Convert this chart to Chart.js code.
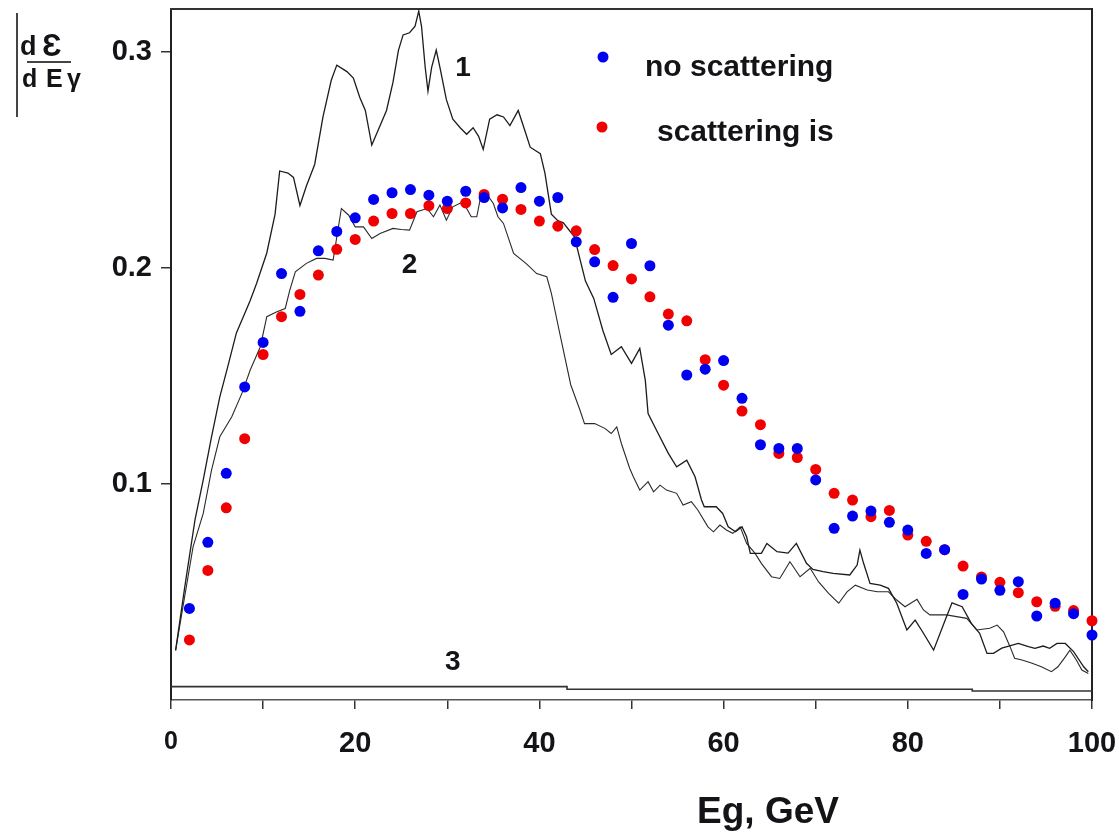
<!DOCTYPE html>
<html lang="en">
<head>
<meta charset="UTF-8">
<title>Photon energy spectrum</title>
<script src="https://cdn.jsdelivr.net/npm/chart.js@4.4.6/dist/chart.umd.min.js"></script>
<style>
  html, body { margin: 0; padding: 0; background: #fff; }
  #wrap { width: 1119px; height: 835px; }
</style>
</head>
<body>
<div id="wrap"><canvas id="spectrum" width="1119" height="835"></canvas></div>
<script>
// dots: photon energy (GeV) and the two simulated spectra
const dotEnergies = [2,4,6,8,10,12,14,16,18,20,22,24,26,28,30,32,34,36,38,40,
  42,44,46,48,50,52,54,56,58,60,62,64,66,68,70,72,74,76,78,80,
  82,84,86,88,90,92,94,96,98,100];
const noScattering = [0.0424,0.073,0.105,0.145,0.1656,0.1975,0.180,0.208,0.217,0.2233,
  0.2318,0.2349,0.2364,0.2338,0.231,0.2356,0.2327,0.2279,0.2373,0.231,
  0.2327,0.2122,0.2029,0.1865,0.2114,0.2011,0.1736,0.1505,0.1532,0.1572,
  0.1397,0.1182,0.1165,0.1165,0.1019,0.0795,0.0852,0.0875,0.0823,0.0787,
  0.0679,0.0696,0.0489,0.056,0.0508,0.0548,0.0389,0.0448,0.040,0.0301];
const withScattering = [0.0278,0.060,0.089,0.121,0.160,0.1775,0.1878,0.1968,0.2087,0.2133,
  0.2218,0.2253,0.2253,0.2289,0.2276,0.2302,0.2341,0.2319,0.2272,0.2218,
  0.2194,0.2173,0.2086,0.2012,0.195,0.1867,0.1787,0.1756,0.1576,0.1458,
  0.1338,0.1275,0.1142,0.1123,0.1068,0.0957,0.0926,0.0849,0.0878,0.0764,
  0.0735,0.0696,0.062,0.057,0.0545,0.0497,0.0455,0.0434,0.0414,0.0367];

// curves 1, 2, 3 as [energy, value]
const curve1 = [[0.5,0.023],[1.5,0.0525],[2.6,0.0833],[3.5,0.1019],[4.4,0.1219],[5.3,0.1404],[6.2,0.155],[7.1,0.170],[8.2,0.181],[8.6,0.185],
  [9.3,0.193],[10.4,0.207],[11.3,0.225],[11.8,0.245],[12.7,0.244],[13.3,0.242],[14.0,0.229],[14.7,0.238],[15.6,0.248],[16.5,0.270],
  [17.4,0.287],[18.0,0.294],[19.1,0.291],[19.8,0.288],[20.5,0.279],[21.1,0.273],[21.8,0.257],[22.5,0.264],[23.4,0.273],[24.1,0.286],
  [24.7,0.301],[25.2,0.308],[25.9,0.309],[26.5,0.312],[26.9,0.319],[27.2,0.312],[27.6,0.293],[27.9,0.282],[28.3,0.293],[28.8,0.301],
  [29.2,0.293],[29.9,0.278],[30.6,0.269],[31.4,0.265],[32.1,0.262],[32.8,0.265],[33.4,0.261],[33.9,0.255],[34.6,0.269],[35.4,0.271],
  [36.1,0.270],[36.8,0.266],[37.7,0.273],[38.4,0.264],[39.0,0.256],[40.1,0.253],[40.6,0.244],[41.3,0.225],[42.0,0.222],[42.6,0.221],
  [43.8,0.2145],[45.0,0.194],[45.9,0.186],[46.9,0.171],[47.8,0.160],[48.9,0.1636],[50.0,0.1559],[50.9,0.1628],[51.5,0.148],[51.8,0.1327],
  [52.7,0.125],[54.0,0.1142],[54.9,0.108],[56.0,0.1111],[56.9,0.1034],[57.6,0.0926],[57.9,0.0895],[59.2,0.0895],[59.9,0.0864],[60.5,0.0802],
  [61.3,0.0779],[62.0,0.0802],[62.5,0.0756],[62.9,0.0679],[64.1,0.0679],[64.7,0.0725],[65.8,0.0687],[67.0,0.068],[67.9,0.0725],[69.0,0.0633],
  [69.7,0.0605],[70.8,0.0594],[71.9,0.0586],[73.7,0.0579],[74.5,0.0625],[74.8,0.0694],[75.2,0.0633],[75.9,0.054],[77.0,0.0532],[77.9,0.0517],
  [78.8,0.0448],[79.9,0.0324],[80.8,0.037],[81.7,0.0309],[82.8,0.0231],[84.2,0.0386],[84.8,0.045],[85.9,0.0432],[86.9,0.0355],[87.8,0.0309],
  [88.6,0.0216],[89.3,0.0216],[90.2,0.024],[92.0,0.0262],[93.1,0.0247],[93.8,0.0239],[94.7,0.025],[95.4,0.0239],[96.2,0.0262],[97.1,0.0262],
  [98.0,0.0224],[99.1,0.0154],[99.6,0.0131]];
const curve2 = [[0.5,0.023],[1.3,0.0432],[2.4,0.071],[3.5,0.0864],[4.4,0.1065],[5.3,0.1219],[6.6,0.1312],[7.7,0.142],[8.6,0.1528],[9.7,0.1636],
  [10.4,0.1775],[11.5,0.1798],[12.4,0.1813],[12.9,0.1898],[13.5,0.1983],[14.7,0.2022],[15.8,0.2045],[16.7,0.2045],[17.6,0.2037],[18.5,0.2276],
  [19.3,0.2245],[20.0,0.2191],[20.9,0.2191],[21.8,0.2137],[22.7,0.216],[24.1,0.2184],[25.0,0.2179],[25.9,0.2176],[26.7,0.2261],[27.8,0.2276],
  [28.5,0.2238],[29.2,0.2292],[29.9,0.2222],[30.6,0.2284],[31.7,0.2307],[32.6,0.2238],[33.2,0.2238],[33.7,0.2346],[34.5,0.233],[35.0,0.2299],
  [35.5,0.2238],[36.1,0.2207],[37.2,0.2068],[38.6,0.202],[39.7,0.1975],[40.8,0.196],[41.3,0.1883],[42.2,0.170],[43.4,0.146],[44.4,0.1343],
  [44.9,0.128],[46.0,0.128],[47.1,0.1258],[47.8,0.1234],[48.4,0.1265],[48.9,0.1188],[49.8,0.1073],[50.2,0.1034],[50.9,0.0972],[51.8,0.1011],
  [52.4,0.0964],[53.1,0.0995],[53.8,0.0972],[54.9,0.0957],[55.6,0.0903],[56.5,0.0918],[57.2,0.088],[58.3,0.0802],[58.9,0.0779],[59.6,0.081],
  [60.3,0.0787],[61.0,0.0772],[61.8,0.0802],[62.5,0.0725],[63.4,0.068],[64.1,0.0633],[65.2,0.0571],[66.1,0.0563],[67.2,0.064],[68.3,0.0571],
  [69.4,0.061],[70.3,0.0548],[71.4,0.0494],[72.5,0.0448],[73.4,0.0501],[74.3,0.0532],[75.6,0.0509],[76.7,0.0501],[77.9,0.0501],[78.8,0.0463],
  [79.7,0.0432],[81.0,0.0466],[81.7,0.0417],[82.4,0.0394],[84.2,0.0394],[85.3,0.0386],[86.4,0.0378],[87.5,0.0324],[88.9,0.0332],[89.7,0.0347],
  [90.4,0.0316],[91.1,0.0247],[91.6,0.0193],[92.4,0.0185],[93.5,0.017],[94.5,0.0154],[95.6,0.0131],[96.3,0.0154],[97.1,0.02],[97.6,0.0231],
  [98.3,0.0185],[98.9,0.0139],[99.6,0.0123]];
const curve3 = [[0,0.0062],[43,0.0062],[43,0.005],[87,0.005],[87,0.0042],[100,0.0042]];

// curve numbers, placed in data units
const curveTags = [
  { text: '1', e: 31.7, v: 0.2926 },
  { text: '2', e: 25.9, v: 0.2014 },
  { text: '3', e: 30.6, v: 0.0176 }
];

const xTickLabels = [0, 20, 40, 60, 80, 100];
const yTickValues = [0.1, 0.2, 0.3];

const FONT = '"Liberation Sans", Arial, sans-serif';
const INK = '#141418';

function toPoints(pairs) {
  return pairs.map(p => ({ x: p[0], y: p[1] }));
}

// pin each axis box so the plot frame lands where it is in the paper figure
function pinBox(size) {
  return s => {
    if (s.isHorizontal()) s.height = size; else s.width = size;
    s.paddingLeft = s.paddingRight = s.paddingTop = s.paddingBottom = 0;
  };
}

const textPlugin = {
  id: 'paperText',
  afterDraw(chart) {
    const ctx = chart.ctx;
    const xs = chart.scales.x, ys = chart.scales.y;
    ctx.save();
    ctx.fillStyle = INK;

    // curve numbers
    ctx.font = 'bold 28px ' + FONT;
    ctx.textAlign = 'center';
    ctx.textBaseline = 'middle';
    curveTags.forEach(t => {
      ctx.fillText(t.text, xs.getPixelForValue(t.e), ys.getPixelForValue(t.v));
    });

    // legend (dots + labels)
    const legendRows = [
      { ds: chart.data.datasets[0], dotX: 603, dotY: 57, textX: 645, base: 76 },
      { ds: chart.data.datasets[1], dotX: 602, dotY: 127, textX: 657, base: 141 }
    ];
    legendRows.forEach(r => {
      ctx.fillStyle = r.ds.backgroundColor;
      ctx.beginPath();
      ctx.arc(r.dotX, r.dotY, 5.5, 0, Math.PI * 2);
      ctx.fill();
      ctx.fillStyle = INK;
      ctx.font = 'bold 30px ' + FONT;
      ctx.textAlign = 'left';
      ctx.textBaseline = 'alphabetic';
      ctx.fillText(r.ds.label, r.textX, r.base);
    });

    // x axis title
    ctx.font = 'bold 37px ' + FONT;
    ctx.textAlign = 'center';
    ctx.fillText('Eg, GeV', 768, 823);

    // y axis title: d(epsilon) / d(E gamma)
    ctx.strokeStyle = '#444';
    ctx.lineWidth = 2;
    ctx.beginPath();
    ctx.moveTo(17, 13); ctx.lineTo(17, 117);
    ctx.moveTo(27, 62); ctx.lineTo(71, 62);
    ctx.stroke();
    ctx.textAlign = 'left';
    ctx.font = 'bold 27px ' + FONT;
    ctx.fillText('d', 20, 55);
    ctx.font = 'bold 31px ' + FONT;
    ctx.fillText('\u0190', 42, 56);
    ctx.font = 'bold 25px ' + FONT;
    ctx.fillText('d', 22, 87);
    ctx.fillText('E', 46, 87);
    ctx.fillText('\u03B3', 67, 87);
    ctx.restore();
  }
};

const ctx = document.getElementById('spectrum').getContext('2d');
new Chart(ctx, {
  type: 'scatter',
  data: {
    datasets: [
      {
        label: 'no scattering',
        data: dotEnergies.map((e, i) => ({ x: e, y: noScattering[i] })),
        backgroundColor: '#0000f0',
        pointRadius: 5.5,
        pointBorderWidth: 0,
        showLine: false,
        clip: false,
        order: 0
      },
      {
        label: 'scattering is',
        data: dotEnergies.map((e, i) => ({ x: e, y: withScattering[i] })),
        backgroundColor: '#f00000',
        pointRadius: 5.5,
        pointBorderWidth: 0,
        showLine: false,
        clip: false,
        order: 1
      },
      {
        label: 'curve 1',
        data: toPoints(curve1),
        showLine: true,
        borderColor: '#1c1c1c',
        borderWidth: 1.3,
        pointRadius: 0,
        order: 2
      },
      {
        label: 'curve 2',
        data: toPoints(curve2),
        showLine: true,
        borderColor: '#2a2a2a',
        borderWidth: 1.1,
        pointRadius: 0,
        order: 3
      },
      {
        label: 'curve 3',
        data: toPoints(curve3),
        showLine: true,
        borderColor: '#333',
        borderWidth: 1.6,
        pointRadius: 0,
        order: 4
      }
    ]
  },
  options: {
    responsive: false,
    animation: false,
    devicePixelRatio: 1,
    layout: { padding: 0 },
    plugins: {
      legend: { display: false },
      tooltip: { enabled: false }
    },
    scales: {
      x: {
        type: 'linear',
        position: 'bottom',
        min: 0,
        max: 100,
        afterFit: pinBox(135),
        ticks: {
          stepSize: 10,
          autoSkip: false,
          maxRotation: 0,
          padding: 18,
          color: INK,
          font: c => ({ family: FONT, weight: 'bold', size: c.tick && c.tick.value === 0 ? 25 : 29 }),
          callback: v => xTickLabels.includes(v) ? String(v) : ''
        },
        grid: { drawOnChartArea: false, tickLength: 9, color: '#333', lineWidth: 1.5 },
        border: { color: '#555', width: 1.5 }
      },
      y: {
        type: 'linear',
        position: 'left',
        min: 0,
        max: 0.32,
        afterFit: pinBox(171),
        afterBuildTicks: s => {
          s.ticks = yTickValues.map(v => ({ value: v }));
        },
        ticks: {
          padding: 9,
          color: INK,
          font: { family: FONT, weight: 'bold', size: 29 },
          callback: v => v.toFixed(1)
        },
        grid: { drawOnChartArea: false, tickLength: 10, color: '#333', lineWidth: 1.5 },
        border: { color: '#222', width: 2 }
      },
      xTop: {
        type: 'linear',
        position: 'top',
        min: 0,
        max: 1,
        afterFit: pinBox(9),
        ticks: { display: false },
        grid: { display: false, drawTicks: false },
        border: { color: '#333', width: 2 }
      },
      yRight: {
        type: 'linear',
        position: 'right',
        min: 0,
        max: 1,
        afterFit: pinBox(27),
        ticks: { display: false },
        grid: { display: false, drawTicks: false },
        border: { color: '#222', width: 2 }
      }
    }
  },
  plugins: [textPlugin]
});
</script>
</body>
</html>
